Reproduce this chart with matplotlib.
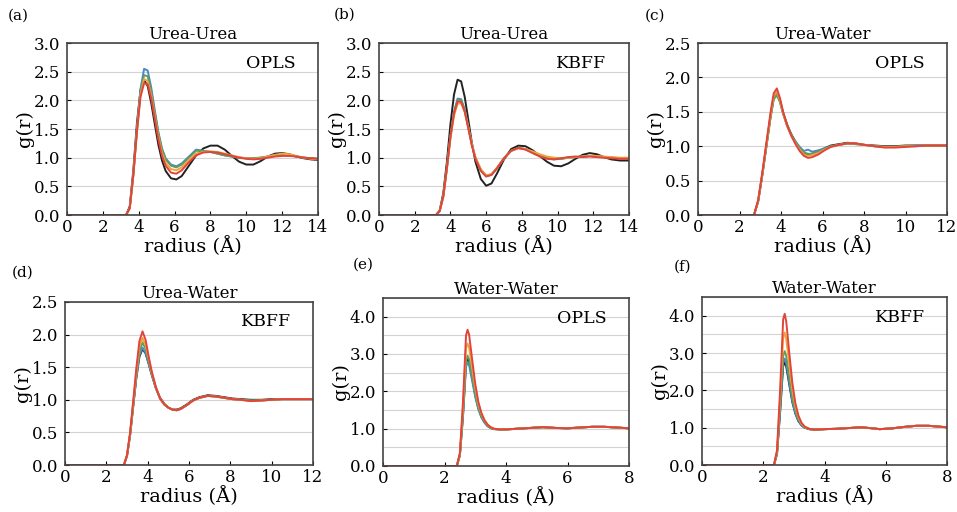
import numpy as np
import matplotlib.pyplot as plt
from matplotlib.ticker import MultipleLocator, FormatStrFormatter

W, H = 957, 512

# --- panel (a): Urea-Urea, OPLS ---
r_a = [0.0, 3.3, 3.5, 3.7, 3.9, 4.1, 4.3, 4.5, 4.7, 4.9, 5.1, 5.3, 5.5, 5.8, 6.1, 6.4, 6.8,
       7.2, 7.6, 8.0, 8.4, 8.8, 9.2, 9.6, 10.0, 10.4, 10.8, 11.2, 11.6, 12.0, 12.4, 12.8, 13.2, 13.6, 14.0]
g_a_blue = [0, 0, 0.12, 0.70, 1.50, 2.20, 2.55, 2.52, 2.22, 1.82, 1.44, 1.16, 0.99, 0.88, 0.85, 0.90, 1.02,
            1.14, 1.12, 1.10, 1.07, 1.04, 1.02, 1.00, 0.99, 0.99, 1.00, 1.02, 1.04, 1.05, 1.04, 1.02, 1.00, 0.99, 0.98]
g_a_green = [0, 0, 0.12, 0.70, 1.48, 2.15, 2.44, 2.42, 2.15, 1.78, 1.42, 1.14, 0.97, 0.86, 0.83, 0.88, 1.00,
             1.12, 1.12, 1.10, 1.07, 1.04, 1.02, 1.00, 0.99, 0.99, 1.00, 1.02, 1.04, 1.05, 1.04, 1.02, 1.00, 0.99, 0.98]
g_a_orange = [0, 0, 0.12, 0.70, 1.46, 2.10, 2.37, 2.34, 2.08, 1.72, 1.36, 1.08, 0.91, 0.80, 0.78, 0.83, 0.96,
              1.07, 1.10, 1.11, 1.10, 1.07, 1.04, 1.01, 0.99, 0.98, 0.99, 1.02, 1.05, 1.07, 1.06, 1.03, 1.00, 0.98, 0.97]
g_a_red = [0, 0, 0.12, 0.70, 1.45, 2.06, 2.30, 2.28, 2.03, 1.67, 1.31, 1.03, 0.86, 0.74, 0.72, 0.78, 0.92,
           1.04, 1.09, 1.10, 1.09, 1.06, 1.03, 1.00, 0.98, 0.97, 0.98, 1.00, 1.02, 1.03, 1.03, 1.02, 1.00, 0.99, 0.98]
g_a_black = [0, 0, 0.15, 0.78, 1.60, 2.18, 2.35, 2.25, 1.95, 1.58, 1.22, 0.95, 0.77, 0.64, 0.62, 0.68, 0.86,
             1.04, 1.16, 1.21, 1.21, 1.14, 1.03, 0.93, 0.88, 0.88, 0.94, 1.02, 1.07, 1.08, 1.06, 1.02, 0.99, 0.97, 0.96]

# --- panel (b): Urea-Urea, KBFF ---
r_b = [0.0, 3.2, 3.4, 3.6, 3.8, 4.0, 4.2, 4.4, 4.6, 4.8, 5.0, 5.2, 5.4, 5.7, 6.0, 6.3, 6.6, 7.0,
       7.4, 7.8, 8.2, 8.6, 9.0, 9.4, 9.8, 10.2, 10.6, 11.0, 11.4, 11.8, 12.2, 12.6, 13.0, 13.5, 14.0]
g_b_blue = [0, 0, 0.07, 0.33, 0.82, 1.38, 1.80, 2.03, 2.02, 1.84, 1.54, 1.23, 0.99, 0.78, 0.68, 0.70, 0.81, 0.99,
            1.12, 1.17, 1.15, 1.09, 1.03, 0.99, 0.97, 0.98, 1.00, 1.01, 1.02, 1.03, 1.02, 1.01, 1.00, 0.99, 0.99]
g_b_green = [0, 0, 0.07, 0.33, 0.81, 1.37, 1.78, 2.00, 2.00, 1.83, 1.53, 1.23, 1.00, 0.79, 0.69, 0.71, 0.82, 0.99,
             1.12, 1.17, 1.15, 1.10, 1.04, 1.00, 0.98, 0.98, 1.00, 1.01, 1.02, 1.03, 1.02, 1.01, 1.00, 0.99, 0.99]
g_b_orange = [0, 0, 0.07, 0.32, 0.80, 1.33, 1.73, 1.94, 1.95, 1.80, 1.53, 1.24, 1.01, 0.80, 0.69, 0.71, 0.82, 0.99,
              1.12, 1.16, 1.15, 1.11, 1.06, 1.02, 1.00, 0.99, 1.00, 1.01, 1.02, 1.03, 1.03, 1.02, 1.01, 1.00, 1.00]
g_b_red = [0, 0, 0.07, 0.32, 0.81, 1.36, 1.77, 1.98, 1.97, 1.80, 1.51, 1.21, 0.98, 0.77, 0.67, 0.70, 0.81, 0.99,
           1.12, 1.17, 1.14, 1.08, 1.02, 0.98, 0.97, 0.99, 1.01, 1.02, 1.01, 1.02, 1.01, 1.00, 0.99, 0.98, 0.98]
g_b_black = [0, 0, 0.08, 0.38, 0.92, 1.58, 2.10, 2.36, 2.33, 2.06, 1.66, 1.26, 0.93, 0.63, 0.51, 0.55, 0.72, 0.97,
             1.15, 1.21, 1.20, 1.13, 1.03, 0.93, 0.86, 0.85, 0.90, 0.98, 1.05, 1.08, 1.06, 1.01, 0.97, 0.95, 0.95]

# --- panel (c): Urea-Water, OPLS ---
r_c = [0.0, 2.7, 2.9, 3.1, 3.3, 3.5, 3.65, 3.8, 3.95, 4.1, 4.3, 4.5, 4.7, 4.9, 5.1, 5.3,
       5.5, 5.8, 6.1, 6.4, 6.8, 7.2, 7.6, 8.0, 8.5, 9.0, 9.5, 10.0, 10.5, 11.0, 11.5, 12.0]
g_c_blue = [0, 0, 0.20, 0.58, 1.01, 1.43, 1.70, 1.76, 1.65, 1.48, 1.30, 1.17, 1.07, 0.99, 0.93, 0.95,
            0.92, 0.94, 0.97, 1.00, 1.02, 1.04, 1.03, 1.02, 1.00, 0.99, 0.99, 1.00, 1.01, 1.01, 1.01, 1.01]
g_c_green = [0, 0, 0.20, 0.58, 1.00, 1.42, 1.68, 1.74, 1.64, 1.47, 1.29, 1.16, 1.06, 0.97, 0.91, 0.89,
             0.89, 0.92, 0.96, 1.00, 1.02, 1.04, 1.03, 1.02, 1.00, 0.99, 0.99, 1.00, 1.00, 1.01, 1.01, 1.01]
g_c_orange = [0, 0, 0.21, 0.60, 1.03, 1.46, 1.73, 1.80, 1.67, 1.48, 1.29, 1.15, 1.04, 0.95, 0.88, 0.86,
              0.87, 0.90, 0.95, 0.99, 1.02, 1.04, 1.04, 1.02, 1.00, 0.99, 0.99, 1.00, 1.00, 1.01, 1.01, 1.01]
g_c_red = [0, 0, 0.22, 0.62, 1.06, 1.50, 1.77, 1.84, 1.70, 1.50, 1.30, 1.15, 1.03, 0.93, 0.86, 0.83,
           0.84, 0.88, 0.94, 0.99, 1.02, 1.04, 1.04, 1.02, 1.00, 0.98, 0.98, 0.99, 1.00, 1.01, 1.01, 1.01]
g_c_black = [0, 0, 0.20, 0.59, 1.02, 1.45, 1.72, 1.78, 1.67, 1.49, 1.31, 1.17, 1.06, 0.97, 0.90, 0.88,
             0.89, 0.92, 0.97, 1.01, 1.03, 1.05, 1.04, 1.02, 1.01, 1.00, 1.00, 1.01, 1.01, 1.01, 1.01, 1.01]

# --- panel (d): Urea-Water, KBFF ---
r_d = [0.0, 2.85, 3.0, 3.15, 3.3, 3.45, 3.6, 3.75, 3.9, 4.05, 4.2, 4.4, 4.6, 4.8, 5.0, 5.2, 5.4,
       5.6, 5.9, 6.2, 6.5, 6.9, 7.3, 7.7, 8.1, 8.5, 9.0, 9.5, 10.0, 10.5, 11.0, 11.5, 12.0]
g_d_blue = [0, 0, 0.14, 0.46, 0.90, 1.34, 1.68, 1.80, 1.72, 1.55, 1.38, 1.17, 1.02, 0.93, 0.88, 0.85, 0.84,
            0.86, 0.92, 0.99, 1.03, 1.06, 1.05, 1.03, 1.01, 1.00, 0.99, 0.99, 1.00, 1.01, 1.01, 1.01, 1.01]
g_d_green = [0, 0, 0.14, 0.47, 0.92, 1.37, 1.74, 1.88, 1.78, 1.59, 1.40, 1.18, 1.02, 0.93, 0.88, 0.85, 0.84,
             0.86, 0.92, 0.99, 1.03, 1.06, 1.05, 1.03, 1.01, 1.00, 0.99, 0.99, 1.00, 1.01, 1.01, 1.01, 1.01]
g_d_orange = [0, 0, 0.15, 0.48, 0.95, 1.42, 1.82, 1.95, 1.84, 1.63, 1.42, 1.19, 1.02, 0.93, 0.88, 0.85, 0.84,
              0.86, 0.92, 0.99, 1.03, 1.06, 1.05, 1.03, 1.01, 1.00, 0.98, 0.99, 1.00, 1.01, 1.01, 1.01, 1.01]
g_d_red = [0, 0, 0.15, 0.50, 0.98, 1.48, 1.90, 2.05, 1.92, 1.66, 1.43, 1.19, 1.02, 0.93, 0.88, 0.85, 0.84,
           0.86, 0.92, 0.99, 1.03, 1.06, 1.05, 1.03, 1.01, 1.00, 0.98, 0.99, 1.00, 1.01, 1.01, 1.01, 1.01]
g_d_black = [0, 0, 0.14, 0.46, 0.90, 1.33, 1.66, 1.78, 1.71, 1.55, 1.38, 1.18, 1.03, 0.94, 0.88, 0.85, 0.85,
             0.87, 0.93, 1.00, 1.04, 1.07, 1.06, 1.04, 1.02, 1.01, 1.00, 1.00, 1.01, 1.01, 1.01, 1.01, 1.01]

# --- panel (e): Water-Water, OPLS ---
r_e = [0.0, 2.4, 2.5, 2.6, 2.7, 2.75, 2.8, 2.9, 3.0, 3.1, 3.2, 3.3, 3.4, 3.5,
       3.6, 3.8, 4.0, 4.4, 4.8, 5.2, 5.6, 6.0, 6.4, 6.8, 7.2, 7.6, 8.0]
g_e_blue = [0, 0, 0.28, 1.30, 2.65, 2.78, 2.70, 2.28, 1.85, 1.52, 1.30, 1.16, 1.07, 1.02,
            0.99, 0.98, 0.98, 1.00, 1.02, 1.04, 1.02, 1.01, 1.03, 1.05, 1.05, 1.03, 1.01]
g_e_green = [0, 0, 0.29, 1.38, 2.82, 2.95, 2.86, 2.40, 1.93, 1.57, 1.33, 1.18, 1.08, 1.02,
             0.99, 0.98, 0.98, 1.00, 1.02, 1.04, 1.02, 1.01, 1.03, 1.05, 1.05, 1.03, 1.01]
g_e_orange = [0, 0, 0.32, 1.55, 3.15, 3.28, 3.18, 2.62, 2.08, 1.66, 1.40, 1.22, 1.11, 1.04,
              1.00, 0.98, 0.98, 1.00, 1.02, 1.04, 1.02, 1.01, 1.03, 1.05, 1.05, 1.03, 1.01]
g_e_red = [0, 0, 0.35, 1.70, 3.50, 3.65, 3.52, 2.85, 2.20, 1.72, 1.42, 1.23, 1.11, 1.04,
           1.00, 0.98, 0.98, 1.00, 1.02, 1.04, 1.02, 1.01, 1.03, 1.05, 1.05, 1.03, 1.01]
g_e_black = [0, 0, 0.29, 1.35, 2.75, 2.88, 2.80, 2.36, 1.90, 1.55, 1.32, 1.17, 1.07, 1.02,
             0.99, 0.98, 0.98, 1.00, 1.02, 1.04, 1.02, 1.01, 1.03, 1.05, 1.05, 1.03, 1.01]

# --- panel (f): Water-Water, KBFF ---
r_f = [0.0, 2.35, 2.45, 2.55, 2.65, 2.7, 2.75, 2.85, 2.95, 3.05, 3.15, 3.25, 3.35, 3.5,
       3.65, 3.8, 4.0, 4.4, 4.8, 5.2, 5.6, 5.8, 6.2, 6.6, 7.0, 7.4, 8.0]
g_f_blue = [0, 0, 0.30, 1.45, 2.75, 2.85, 2.72, 2.20, 1.70, 1.38, 1.18, 1.06, 1.00, 0.96,
            0.95, 0.95, 0.96, 0.97, 0.99, 1.01, 0.98, 0.96, 0.98, 1.02, 1.05, 1.05, 1.01]
g_f_green = [0, 0, 0.32, 1.55, 2.92, 3.05, 2.92, 2.35, 1.80, 1.45, 1.22, 1.08, 1.01, 0.96,
             0.95, 0.95, 0.96, 0.97, 0.99, 1.01, 0.98, 0.96, 0.98, 1.02, 1.05, 1.05, 1.01]
g_f_orange = [0, 0, 0.36, 1.80, 3.40, 3.55, 3.38, 2.70, 2.02, 1.56, 1.28, 1.11, 1.02, 0.97,
              0.95, 0.95, 0.96, 0.97, 0.99, 1.01, 0.98, 0.96, 0.98, 1.02, 1.05, 1.05, 1.01]
g_f_red = [0, 0, 0.40, 2.00, 3.90, 4.05, 3.85, 3.00, 2.20, 1.65, 1.32, 1.13, 1.03, 0.97,
           0.95, 0.95, 0.96, 0.97, 0.99, 1.01, 0.98, 0.96, 0.98, 1.02, 1.05, 1.05, 1.01]
g_f_black = [0, 0, 0.30, 1.40, 2.65, 2.75, 2.64, 2.15, 1.68, 1.37, 1.17, 1.06, 1.00, 0.96,
             0.95, 0.95, 0.96, 0.97, 0.99, 1.01, 0.98, 0.96, 0.98, 1.02, 1.05, 1.05, 1.01]

colors = {"black": "#222222", "blue": "#4f86c6", "green": "#5b9e5e",
          "orange": "#f0a33a", "red": "#e2433a"}
series_order = ["black", "blue", "green", "orange", "red"]

panels = [
    # letter, letter pos px, title, force field, r, curves, xmax, ymax, ytick step, box (l, t, r, b) px
    ("(a)", (18, 16), "Urea-Urea", "OPLS", r_a,
     dict(blue=g_a_blue, green=g_a_green, orange=g_a_orange, red=g_a_red, black=g_a_black),
     14, 3.0, 0.5, (67, 43, 318, 215)),
    ("(b)", (345, 15), "Urea-Urea", "KBFF", r_b,
     dict(blue=g_b_blue, green=g_b_green, orange=g_b_orange, red=g_b_red, black=g_b_black),
     14, 3.0, 0.5, (379, 43, 629, 215)),
    ("(c)", (655, 16), "Urea-Water", "OPLS", r_c,
     dict(blue=g_c_blue, green=g_c_green, orange=g_c_orange, red=g_c_red, black=g_c_black),
     12, 2.5, 0.5, (698, 43, 947, 215)),
    ("(d)", (23, 273), "Urea-Water", "KBFF", r_d,
     dict(blue=g_d_blue, green=g_d_green, orange=g_d_orange, red=g_d_red, black=g_d_black),
     12, 2.5, 0.5, (65, 302, 313, 465)),
    ("(e)", (363, 265), "Water-Water", "OPLS", r_e,
     dict(blue=g_e_blue, green=g_e_green, orange=g_e_orange, red=g_e_red, black=g_e_black),
     8, 4.5, 1.0, (383, 298, 629, 466)),
    ("(f)", (683, 267), "Water-Water", "KBFF", r_f,
     dict(blue=g_f_blue, green=g_f_green, orange=g_f_orange, red=g_f_red, black=g_f_black),
     8, 4.5, 1.0, (702, 297, 947, 465)),
]

plt.rcParams['font.family'] = ['DejaVu Serif']

fig = plt.figure(figsize=(W / 100, H / 100), dpi=100)

for letter, (lx, ly), title, ff, r, curves, xmax, ymax, ystep, (l, t, rr, b) in panels:
    ax = fig.add_axes([l / W, 1 - b / H, (rr - l) / W, (b - t) / H])
    for name in series_order:
        ax.plot(r, curves[name], color=colors[name], lw=1.4)
    ax.set_xlim(0, xmax)
    ax.set_ylim(0, ymax)
    ax.xaxis.set_major_locator(MultipleLocator(2))
    ax.yaxis.set_major_locator(MultipleLocator(ystep))
    ax.yaxis.set_minor_locator(MultipleLocator(0.5))
    ax.yaxis.set_major_formatter(FormatStrFormatter('%.1f'))
    ax.grid(axis='y', which='both', color='#d4d4d4', lw=0.8)
    ax.set_axisbelow(True)
    ax.tick_params(direction='in', length=3, labelsize=12)
    ax.tick_params(axis='x', pad=3)
    ax.tick_params(axis='y', pad=5)
    ax.tick_params(axis='y', which='minor', length=0)
    for s in ax.spines.values():
        s.set_color('#444444')
        s.set_linewidth(1.2)
    ax.set_xlabel("radius (Å)", fontsize=14, labelpad=0)
    ax.set_ylabel("g(r)", fontsize=14, labelpad=0)
    ax.set_title(title, fontsize=12, pad=3)
    ax.text(0.91, 0.88, ff, transform=ax.transAxes, fontsize=12.5,
            ha='right', va='center')
    fig.text(lx / W, 1 - ly / H, letter, fontsize=11, ha='center', va='center')

fig.savefig("out.png", dpi=100)
